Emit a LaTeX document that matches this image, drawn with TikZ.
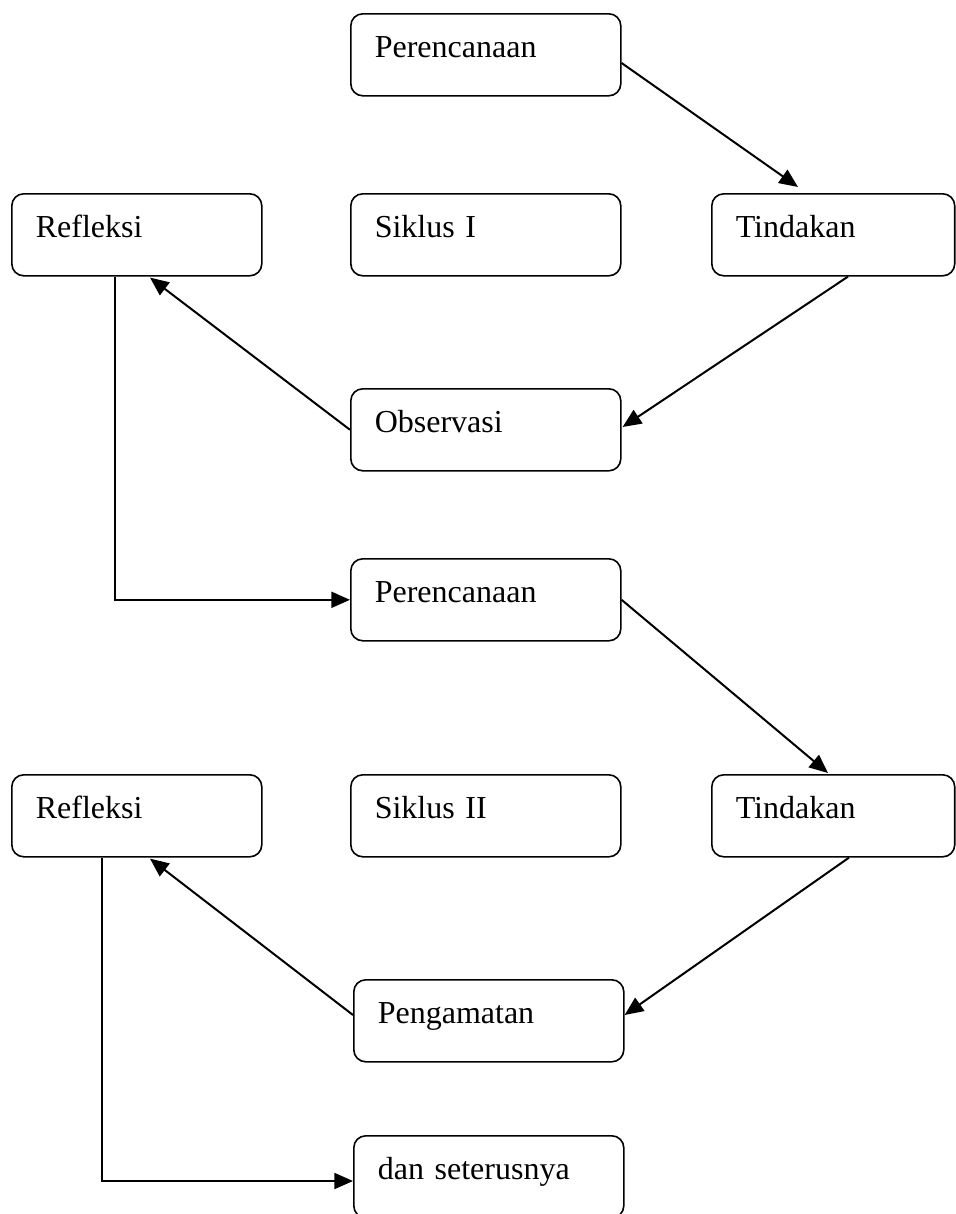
\documentclass[tikz,border=0pt]{standalone}
\usepackage{fontspec}
\setmainfont{Liberation Serif}
\usetikzlibrary{arrows.meta,calc}

\tikzset{
    box/.style={draw, line width=0.6pt, rounded corners=4.5pt, anchor=north west,
        inner xsep=9pt, inner ysep=0pt, text height=16.5pt, text depth=14.25pt,
        align=left, font=\fontsize{12}{14}\selectfont},
    midbox/.style={box, text width=83.25pt},
    leftbox/.style={box, text width=75.75pt},
    rightbox/.style={box, text width=73.1pt},
    flow/.style={line width=0.75pt, -{Triangle[length=7pt,width=6pt]}}
}

\begin{document}
\begin{tikzpicture}[x=0.375pt, y=-0.375pt]
    \useasboundingbox (0,0) rectangle (955,1214);

    % 1) first cycle
    \node[midbox] (plan1) at (350,13) {Perencanaan};
    \node[leftbox] (refl1) at (11,193) {Refleksi};
    \node[midbox] (cyc1) at (350,193) {Siklus I};
    \node[rightbox] (act1) at (711,193) {Tindakan};
    \node[midbox] (obs1) at (350,388) {Observasi};

    % 2) second cycle
    \node[midbox] (plan2) at (350,558) {Perencanaan};
    \node[leftbox] (refl2) at (11,774) {Refleksi};
    \node[midbox] (cyc2) at (350,774) {Siklus II};
    \node[rightbox] (act2) at (711,774) {Tindakan};
    \node[midbox] (obs2) at (353,979) {Pengamatan};

    % 3) next
    \node[midbox] (next) at (353,1135) {dan seterusnya};

    % Arrows, first cycle
    \draw[flow] ($(plan1.north east)+(0,50)$) -- ($(act1.north west)+(87,-6)$);
    \draw[flow] ($(act1.south west)+(137,0)$) -- ($(obs1.north east)+(1,39)$);
    \draw[flow] (obs1.west) -- ($(refl1.south west)+(139,1)$);
    \draw[flow] ($(refl1.south west)+(104,0)$) |- (plan2.west);

    % Arrows, second cycle
    \draw[flow] (plan2.east) -- ($(act2.north west)+(117,-1)$);
    \draw[flow] ($(act2.south west)+(138,0)$) -- ($(obs2.north east)+(0,36)$);
    \draw[flow] ($(obs2.north west)+(0,36)$) -- ($(refl2.south west)+(139,1)$);
    \draw[flow] ($(refl2.south west)+(91,0)$) |- ($(next.north west)+(0,46)$);
\end{tikzpicture}
\end{document}
